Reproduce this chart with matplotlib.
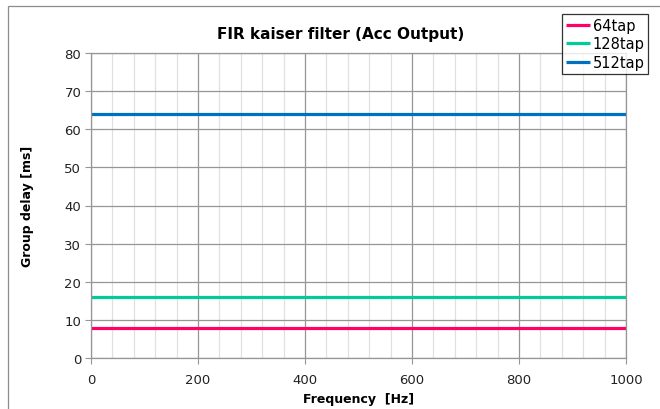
import matplotlib
matplotlib.use("Agg")
import matplotlib.pyplot as plt
from matplotlib.patches import Rectangle
import numpy as np

freq_hz = [0, 1000]
series_names = ["64tap", "128tap", "512tap"]
delay_ms = [7.875, 15.875, 63.875]
colors = ["#FF0066", "#00CC99", "#0070C0"]

plt.rcParams["font.family"] = ["DejaVu Sans"]

fig = plt.figure(figsize=(6.6, 4.1), dpi=100)
ax = fig.add_axes([91 / 660, 51 / 410, 535 / 660, 305 / 410])

for name, d, c in zip(series_names, delay_ms, colors):
    ax.plot(freq_hz, [d, d], color=c, lw=2.3, label=name, solid_capstyle="butt")

ax.set_xlim(0, 1000)
ax.set_ylim(0, 80)
ax.set_xticks(np.arange(0, 1001, 200))
ax.set_xticks(np.arange(0, 1001, 40), minor=True)
ax.set_yticks(np.arange(0, 81, 10))
ax.grid(which="major", color="#969696", lw=0.9)
ax.grid(which="minor", axis="x", color="#e0e0e0", lw=0.9)
ax.set_axisbelow(True)
for s in ax.spines.values():
    s.set_color("#969696")
    s.set_linewidth(0.9)
ax.tick_params(which="major", length=4, color="#969696", labelsize=9.5,
               labelcolor="#222222", pad=3)
ax.tick_params(which="minor", length=0)
ax.tick_params(axis="x", pad=7)

fig.text(341 / 660, 1 - 35 / 410, "FIR kaiser filter (Acc Output)", fontsize=11,
         fontweight="bold", ha="center", va="center")
ax.set_xlabel("Frequency  [Hz]", fontsize=9, fontweight="bold", labelpad=4)
ax.set_ylabel("Group delay [ms]", fontsize=9, fontweight="bold", labelpad=22)

leg = fig.legend(loc="upper left", bbox_to_anchor=(562 / 660, 1 - 15 / 410),
                 fontsize=10.5, frameon=True, fancybox=False, handlelength=1.7,
                 handletextpad=0.15, borderpad=0.25, labelspacing=0.25,
                 borderaxespad=0)
leg.get_frame().set_edgecolor("black")
leg.get_frame().set_linewidth(0.9)

fig.patches.append(Rectangle((8 / 660, -0.1), 1.2, 1.1 - 7 / 410,
                             transform=fig.transFigure, fill=False,
                             edgecolor="#8c8c8c", lw=0.9, zorder=-1))

fig.savefig("out.png", dpi=100)
